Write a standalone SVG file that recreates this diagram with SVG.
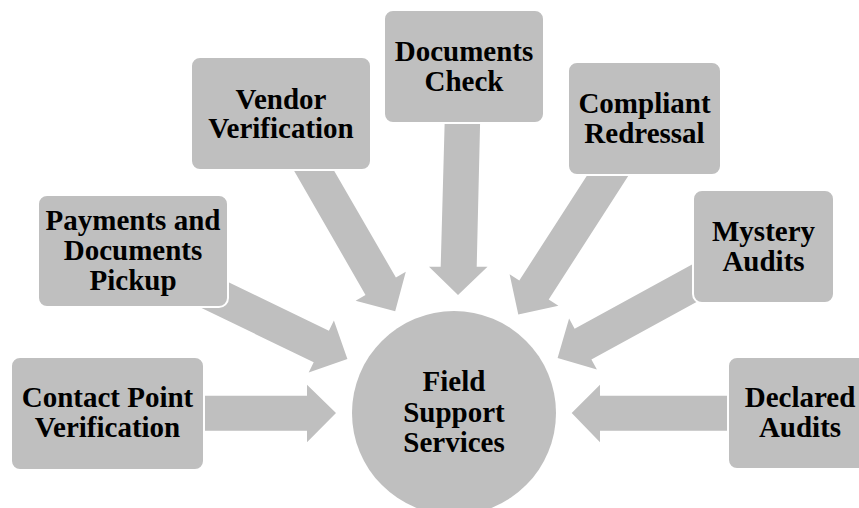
<svg xmlns="http://www.w3.org/2000/svg" width="859" height="508" viewBox="0 0 859 508">
<style>
.box{fill:#BFBFBF;stroke:#FFFFFF;stroke-width:2}
.arr{fill:#BFBFBF}
.t{font-family:"Liberation Serif","Times New Roman",serif;font-weight:bold;font-size:29px;fill:#000;text-anchor:middle}
</style>
<rect width="859" height="508" fill="#FFFFFF"/>
<g id="connectors">
<polygon class="arr" points="195,395.7 307,395.7 307,384.7 336,413 307,442.3 307,430.7 195,430.7"/>
<polygon class="arr" points="193.9,265.4 328.9,330.8 333.9,320.4 347.4,359.1 308.7,372.6 313.7,362.3 178.7,296.9"/>
<polygon class="arr" points="285,155 325,155 395.9,277.5 405.8,271.7 395.2,311.3 355.6,300.7 365.5,294.9"/>
<polygon class="arr" points="445,110 480.4,110 476.7,266.7 487.5,266.7 458,295 429,266.7 440.7,266.7"/>
<polygon class="arr" points="597,160 638.5,160 548.7,299.5 558.4,305.7 518.3,314.4 509.6,274.3 519.3,280.5"/>
<polygon class="arr" points="706.2,256.7 723,287.4 591.4,359.4 596.9,369.4 557.6,357.9 569.1,318.6 574.6,328.7"/>
<polygon class="arr" points="740,395.7 600,395.7 600,384.7 571.7,413 600,442.3 600,430.7 740,430.7"/>
</g>
<g id="center">
<circle cx="454" cy="413" r="102" fill="#BFBFBF"/>
<text class="t" x="454" y="391">Field</text>
<text class="t" x="454" y="422">Support</text>
<text class="t" x="454" y="452">Services</text>
</g>
<g id="contact">
<rect class="box" x="11" y="357" width="193" height="113" rx="9"/>
<text class="t" x="107.5" y="407">Contact Point</text>
<text class="t" x="107.5" y="437">Verification</text>
</g>
<g id="payments">
<rect class="box" x="38" y="195" width="190" height="112" rx="9"/>
<text class="t" x="133" y="230">Payments and</text>
<text class="t" x="133" y="260">Documents</text>
<text class="t" x="133" y="290">Pickup</text>
</g>
<g id="vendor">
<rect class="box" x="191" y="57" width="180" height="113" rx="9"/>
<text class="t" x="281" y="109">Vendor</text>
<text class="t" x="281" y="138">Verification</text>
</g>
<g id="documents">
<rect class="box" x="384" y="10" width="160" height="113" rx="9"/>
<text class="t" x="464" y="61">Documents</text>
<text class="t" x="464" y="91">Check</text>
</g>
<g id="compliant">
<rect class="box" x="568" y="62" width="153" height="113" rx="9"/>
<text class="t" x="644.5" y="113">Compliant</text>
<text class="t" x="644.5" y="143">Redressal</text>
</g>
<g id="mystery">
<rect class="box" x="693" y="190" width="141" height="113" rx="9"/>
<text class="t" x="763.5" y="241">Mystery</text>
<text class="t" x="763.5" y="271">Audits</text>
</g>
<g id="declared">
<rect class="box" x="728" y="357" width="144" height="112" rx="9"/>
<text class="t" x="800" y="407">Declared</text>
<text class="t" x="800" y="437">Audits</text>
</g>
</svg>
